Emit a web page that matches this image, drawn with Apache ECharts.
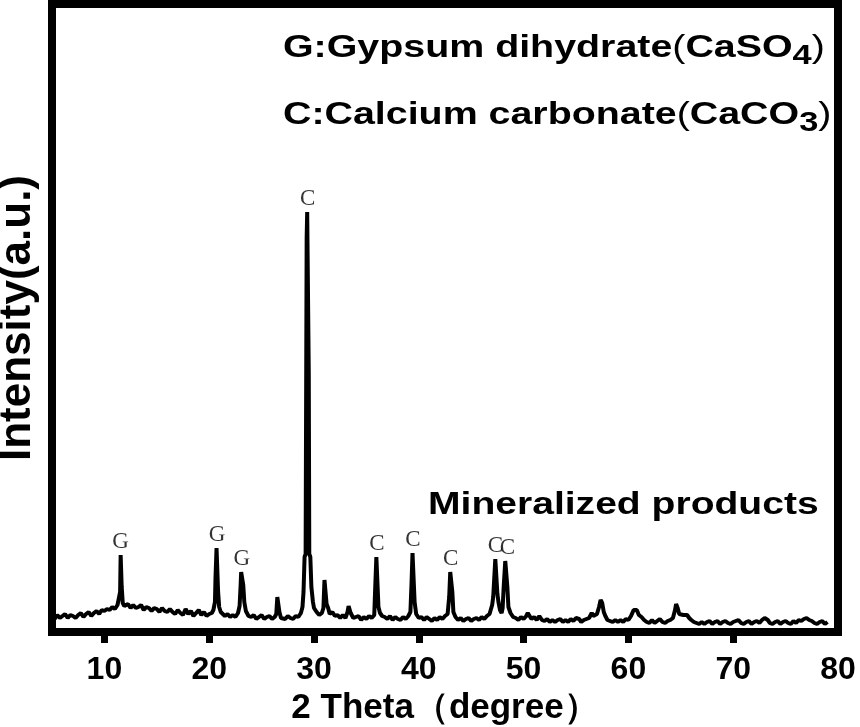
<!DOCTYPE html>
<html>
<head>
<meta charset="utf-8">
<script src="https://cdn.jsdelivr.net/npm/echarts@6/dist/echarts.min.js"></script>
<style>
  html, body { margin: 0; padding: 0; background: #fff; }
  #main { width: 860px; height: 727px; }
</style>
</head>
<body>
<div id="main"></div>
<script>
// XRD pattern, [2theta, intensity (a.u.)]
var pattern = [
  [5.0,16],[5.25,13],[5.5,17],[5.75,14],[6.0,16],[6.25,18],[6.5,14],[6.75,17],[7.0,16],[7.25,14],
  [7.5,17],[7.75,19],[8.0,15],[8.25,18],[8.5,20],[8.75,16],[9.0,19],[9.25,21],[9.5,18],[9.75,22],
  [10.0,21],[10.25,23],[10.5,22],[10.75,25],[11.0,23],[11.25,27],[11.4,28],[11.5,40],[11.55,77],[11.6,77],
  [11.65,45],[11.75,29],[11.9,26],[12.0,24],[12.25,28],[12.5,24],[12.75,27],[13.0,24],[13.25,25],[13.5,27],
  [13.75,22],[14.0,25],[14.25,24],[14.5,21],[14.75,24],[15.0,23],[15.25,20],[15.5,24],[15.75,21],[16.0,20],
  [16.25,23],[16.5,20],[16.75,18],[17.0,22],[17.25,19],[17.5,17],[17.75,23],[18.0,18],[18.25,21],[18.5,16],
  [18.75,19],[19.0,22],[19.25,17],[19.5,20],[19.75,16],[20.0,18],[20.25,19],[20.4,22],[20.55,30],[20.6,54],
  [20.7,84],[20.8,84],[20.85,40],[20.95,25],[21.1,20],[21.25,19],[21.5,16],[21.75,18],[22.0,15],[22.25,17],
  [22.5,15],[22.75,19],[22.9,26],[23.0,47],[23.05,60],[23.15,60],[23.25,47],[23.35,30],[23.5,21],[23.75,16],
  [24.0,15],[24.25,17],[24.5,13],[24.75,15],[25.0,17],[25.25,13],[25.5,15],[25.75,16],[26.0,13],[26.25,15],
  [26.4,18],[26.5,35],[26.6,35],[26.7,20],[26.85,14],[27.0,16],[27.25,13],[27.5,16],[27.75,14],[28.0,13],
  [28.25,16],[28.5,15],[28.75,19],[28.9,25],[29.0,40],[29.1,75],[29.2,78],[29.3,394],[29.35,420],[29.45,420],
  [29.5,260],[29.55,78],[29.65,75],[29.75,45],[29.9,30],[30.0,24],[30.25,20],[30.5,17],[30.75,19],[30.9,24],
  [31.0,52],[31.1,52],[31.2,28],[31.35,24],[31.5,18],[31.75,20],[32.0,16],[32.25,17],[32.5,14],[32.75,17],
  [33.0,14],[33.2,20],[33.3,26],[33.4,26],[33.5,19],[33.75,14],[34.0,15],[34.25,16],[34.5,12],[34.75,15],
  [35.0,13],[35.25,16],[35.5,14],[35.75,17],[35.85,47],[35.95,75],[36.05,75],[36.15,25],[36.3,19],[36.5,16],
  [36.75,15],[37.0,13],[37.25,16],[37.5,12],[37.75,15],[38.0,13],[38.25,12],[38.5,15],[38.75,13],[39.0,16],
  [39.2,20],[39.3,47],[39.4,79],[39.5,79],[39.6,30],[39.75,18],[40.0,14],[40.25,15],[40.5,12],[40.75,15],
  [41.0,13],[41.25,11],[41.5,14],[41.75,12],[42.0,15],[42.25,13],[42.5,16],[42.75,18],[42.9,35],[43.0,60],
  [43.1,60],[43.2,40],[43.3,20],[43.5,15],[43.75,12],[44.0,14],[44.25,11],[44.5,13],[44.75,14],[45.0,11],
  [45.25,13],[45.5,14],[45.75,12],[46.0,15],[46.25,13],[46.5,16],[46.75,18],[47.0,27],[47.1,35],[47.2,36],
  [47.3,73],[47.4,73],[47.5,38],[47.6,30],[47.75,22],[47.9,19],[48.0,24],[48.1,45],[48.25,71],[48.35,71],
  [48.45,45],[48.55,25],[48.75,19],[49.0,15],[49.25,14],[49.5,12],[49.75,15],[50.0,13],[50.25,16],[50.4,19],
  [50.5,18],[50.75,13],[51.0,15],[51.25,12],[51.5,16],[51.75,12],[52.0,11],[52.25,13],[52.5,10],[52.75,12],
  [53.0,10],[53.25,12],[53.5,13],[53.75,10],[54.0,12],[54.25,10],[54.5,13],[54.75,11],[55.0,14],[55.15,16],
  [55.3,13],[55.5,10],[55.75,12],[56.0,13],[56.25,14],[56.5,19],[56.65,16],[56.8,15],[57.0,18],[57.2,25],
  [57.35,32],[57.5,29],[57.65,20],[57.8,16],[58.0,12],[58.25,11],[58.5,10],[58.75,12],[59.0,10],[59.25,12],
  [59.5,10],[59.75,13],[60.0,12],[60.25,16],[60.5,22],[60.65,24],[60.8,22],[61.0,17],[61.25,15],[61.5,12],
  [61.75,10],[62.0,9],[62.25,12],[62.5,9],[62.75,11],[63.0,13],[63.25,10],[63.5,9],[63.75,11],[64.0,12],
  [64.25,14],[64.45,22],[64.55,28],[64.7,24],[64.85,18],[65.0,16],[65.25,17],[65.4,15],[65.6,17],[65.8,14],
  [66.0,12],[66.25,10],[66.5,9],[66.75,8],[67.0,10],[67.25,8],[67.5,10],[67.75,11],[68.0,8],[68.25,10],
  [68.5,11],[68.75,8],[69.0,10],[69.25,11],[69.5,9],[69.75,8],[70.0,10],[70.25,11],[70.5,12],[70.75,9],
  [71.0,8],[71.25,10],[71.5,11],[71.75,8],[72.0,10],[72.25,11],[72.5,9],[72.75,12],[73.0,14],[73.15,15],
  [73.3,12],[73.5,9],[73.75,8],[74.0,10],[74.25,11],[74.5,8],[74.75,10],[75.0,11],[75.25,9],[75.5,8],
  [75.75,11],[76.0,9],[76.25,12],[76.5,11],[76.75,13],[77.0,14],[77.25,12],[77.5,11],[77.75,9],[78.0,8],
  [78.25,10],[78.5,11],[78.75,8],[79.0,10]
];

// peak labels
var peakTheta  = [11.55, 20.75, 23.1, 29.4, 36.0, 39.45, 43.05, 47.3, 48.45];
var peakTop    = [77, 84, 60, 420, 75, 79, 60, 73, 71];
var peakLetter = ['G', 'G', 'G', 'C', 'C', 'C', 'C', 'C', 'C'];

var xTicks = [10, 20, 30, 40, 50, 60, 70, 80];

var peakData = peakTheta.map(function (t, i) {
  return { name: peakLetter[i], value: [t, peakTop[i]] };
});

var myChart = echarts.init(document.getElementById('main'));

var option = {
  animation: false,
  backgroundColor: '#fff',
  grid: {
    left: 52, right: 22, top: 4, bottom: 95,
    outerBoundsMode: 'none',
    containLabel: false,
    show: true, borderWidth: 8, borderColor: '#000', backgroundColor: 'transparent'
  },
  xAxis: {
    type: 'value',
    min: 5, max: 80,
    name: '2 Theta（degree）',
    nameLocation: 'middle',
    nameGap: 54,
    nameTextStyle: { fontFamily: 'Liberation Sans', fontWeight: 'bold', fontSize: 35, color: '#000' },
    axisLine: { show: false },
    axisTick: {
      show: true, inside: false, length: 11,
      customValues: xTicks.slice(0, 7),
      lineStyle: { color: '#000', width: 7 }
    },
    axisLabel: {
      customValues: xTicks,
      margin: 22,
      fontFamily: 'Liberation Sans', fontWeight: 'bold', fontSize: 32, color: '#000'
    },
    splitLine: { show: false }
  },
  yAxis: {
    type: 'value',
    min: 0, max: 628,
    name: 'Intensity(a.u.)',
    nameLocation: 'middle',
    nameRotate: 90,
    nameGap: 12,
    nameTextStyle: { fontFamily: 'Liberation Sans', fontWeight: 'bold', fontSize: 44, color: '#000' },
    axisLine: { show: false },
    axisTick: { show: false },
    axisLabel: { show: false },
    splitLine: { show: false }
  },
  series: [
    {
      type: 'line',
      data: pattern,
      showSymbol: false,
      lineStyle: { color: '#000', width: 4 },
      z: 2
    },
    {
      type: 'scatter',
      data: peakData,
      symbolSize: 0,
      label: {
        show: true,
        position: 'top',
        distance: 2,
        formatter: '{b}',
        fontFamily: 'Liberation Serif',
        fontSize: 23,
        color: '#000'
      },
      z: 3
    }
  ],
  graphic: [
    {
      type: 'text', x: 283, y: 48, scaleX: 1.23,
      style: {
        text: '{b|G:Gypsum dihydrate}{p|(}{b|CaSO}{s|4}{p|)}',
        verticalAlign: 'middle',
        rich: {
          b: { fontFamily: 'Liberation Sans', fontWeight: 'bold', fontSize: 32, color: '#000' },
          p: { fontFamily: 'Liberation Sans', fontSize: 32, color: '#000' },
          s: { fontFamily: 'Liberation Sans', fontWeight: 'bold', fontSize: 28, color: '#000', padding: [16, 0, 0, 0] }
        }
      }
    },
    {
      type: 'text', x: 283, y: 115, scaleX: 1.23,
      style: {
        text: '{b|C:Calcium carbonate}{p|(}{b|CaCO}{s|3}{p|)}',
        verticalAlign: 'middle',
        rich: {
          b: { fontFamily: 'Liberation Sans', fontWeight: 'bold', fontSize: 32, color: '#000' },
          p: { fontFamily: 'Liberation Sans', fontSize: 32, color: '#000' },
          s: { fontFamily: 'Liberation Sans', fontWeight: 'bold', fontSize: 28, color: '#000', padding: [16, 0, 0, 0] }
        }
      }
    },
    {
      type: 'text', x: 428, y: 505, scaleX: 1.26,
      style: {
        text: 'Mineralized products',
        verticalAlign: 'middle',
        font: 'bold 31px "Liberation Sans"',
        fill: '#000'
      }
    }
  ]
};

option && myChart.setOption(option);

window.addEventListener('resize', function () {
  myChart.resize();
});
</script>
</body>
</html>
